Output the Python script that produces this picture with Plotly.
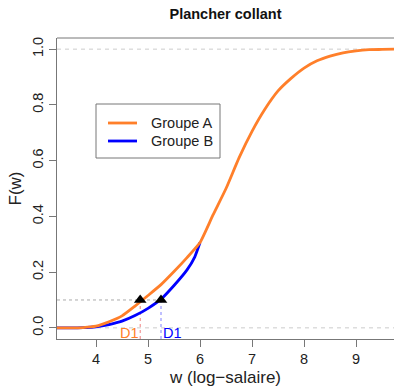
import plotly.graph_objects as go

# ---- data ----
w_a = [3.25, 3.5, 3.75, 4.0, 4.25, 4.5, 4.75, 5.0, 5.25, 5.5, 5.75, 6.0,
       6.25, 6.5, 6.75, 7.0, 7.25, 7.5, 7.75, 8.0, 8.25, 8.5, 8.75, 9.0,
       9.25, 9.5, 9.75]
F_a = [0.0, 0.0, 0.001, 0.006, 0.022, 0.043, 0.078, 0.116, 0.155, 0.202,
       0.252, 0.306, 0.405, 0.50, 0.61, 0.705, 0.785, 0.850, 0.895, 0.932,
       0.958, 0.975, 0.987, 0.994, 0.998, 0.999, 1.0]
w_b = [3.25, 3.5, 3.75, 4.0, 4.25, 4.5, 4.75, 5.0, 5.25, 5.5, 5.75, 5.9, 6.0]
F_b = [0.0, 0.0, 0.001, 0.004, 0.012, 0.024, 0.044, 0.070, 0.103, 0.152,
       0.208, 0.255, 0.306]
d1_level = 0.1
d1_a = 4.85
d1_b = 5.25
x_ticks = [4, 5, 6, 7, 8, 9]
y_ticks = [0.0, 0.2, 0.4, 0.6, 0.8, 1.0]
y_tick_labels = ["0.0", "0.2", "0.4", "0.6", "0.8", "1.0"]
legend_names = ["Groupe A", "Groupe B"]

ORANGE = "#FF7F2A"
BLUE = "#0000FF"
FONT = "Liberation Sans, Arial, sans-serif"
FS = 14.5
XR = [3.25, 9.73]
YR = [-0.04, 1.04]

W, H = 394, 387
L, T, R, B = 57, 38, 0, 48
PW, PH = W - L - R, H - T - B


def px(xw):  # window x pixel -> paper x
    return (xw - L) / PW


def py(yw):  # window y pixel -> paper y
    return (H - B - yw) / PH


fig = go.Figure()

# reference lines
for yv in (0.0, 1.0):
    fig.add_shape(type="line", x0=XR[0], x1=XR[1], y0=yv, y1=yv,
                  line=dict(color="#cccccc", width=1, dash="4px,4px"), layer="below")
fig.add_shape(type="line", x0=XR[0], x1=d1_b, y0=d1_level, y1=d1_level,
              line=dict(color="#aaaaaa", width=1, dash="dot"), layer="below")
fig.add_shape(type="line", x0=d1_a, x1=d1_a, y0=YR[0], y1=d1_level,
              line=dict(color="#f08080", width=1, dash="dot"), layer="below")
fig.add_shape(type="line", x0=d1_b, x1=d1_b, y0=YR[0], y1=d1_level,
              line=dict(color="#8080ff", width=1, dash="dot"), layer="below")
# top frame line
fig.add_shape(type="line", xref="paper", yref="paper", x0=0, x1=1, y0=1, y1=1,
              line=dict(color="#777777", width=1))

fig.add_trace(go.Scatter(x=w_b, y=F_b, mode="lines", name=legend_names[1],
                         line=dict(color=BLUE, width=2.8, shape="spline", smoothing=0.5),
                         showlegend=False))
fig.add_trace(go.Scatter(x=w_a, y=F_a, mode="lines", name=legend_names[0],
                         line=dict(color=ORANGE, width=2.8, shape="spline", smoothing=0.5),
                         showlegend=False))
fig.add_trace(go.Scatter(x=[d1_a, d1_b], y=[d1_level, d1_level], mode="markers",
                         marker=dict(symbol="triangle-up", size=11, color="black"),
                         showlegend=False))

fig.add_annotation(x=d1_a, y=-0.018, text="D1", showarrow=False, xanchor="right",
                   font=dict(color=ORANGE, size=FS, family=FONT), xshift=1)
fig.add_annotation(x=d1_b, y=-0.018, text="D1", showarrow=False, xanchor="left",
                   font=dict(color=BLUE, size=FS, family=FONT), xshift=0)

# legend box (drawn like R's legend)
fig.add_shape(type="rect", xref="paper", yref="paper",
              x0=px(96), x1=px(220), y0=py(158), y1=py(104),
              line=dict(color="#777777", width=1), fillcolor="white", layer="above")
for name, col, yw in zip(legend_names, [ORANGE, BLUE], [123, 141]):
    fig.add_shape(type="line", xref="paper", yref="paper",
                  x0=px(108), x1=px(137), y0=py(yw), y1=py(yw),
                  line=dict(color=col, width=2.8), layer="above")
    fig.add_annotation(xref="paper", yref="paper", x=px(149), y=py(yw), text=name,
                       showarrow=False, xanchor="left", yanchor="middle",
                       font=dict(size=FS, family=FONT, color="#222222"))

fig.update_layout(
    width=W, height=H,
    margin=dict(l=L, r=R, t=T, b=B, autoexpand=False),
    paper_bgcolor="white", plot_bgcolor="white",
    font=dict(family=FONT, size=FS, color="#222222"),
    title=dict(text="<b>Plancher collant</b>", x=225.5 / W, xanchor="center",
               y=1 - 14 / H, yanchor="middle", automargin=False,
               font=dict(size=FS, color="#111111")),
    showlegend=False,
    hovermode=False,
)
fig.update_xaxes(range=XR, tickvals=x_ticks, showgrid=False, zeroline=False,
                 showline=True, linecolor="#777777", linewidth=1, automargin=False,
                 ticks="outside", ticklen=7, tickcolor="#777777",
                 title=dict(text="w (log\u2212salaire)", standoff=6),
                 tickfont=dict(size=FS))
fig.update_yaxes(range=YR, tickvals=y_ticks, ticktext=y_tick_labels, tickangle=-90,
                 showgrid=False, zeroline=False,
                 showline=True, linecolor="#777777", linewidth=1, automargin=False,
                 ticks="outside", ticklen=7, tickcolor="#777777",
                 title=dict(text="F(w)", standoff=4), tickfont=dict(size=FS))

fig.write_html("out.html",
               config={"displayModeBar": False},
               post_script="document.body.style.margin='0';"
                           "document.body.style.overflow='hidden';")
